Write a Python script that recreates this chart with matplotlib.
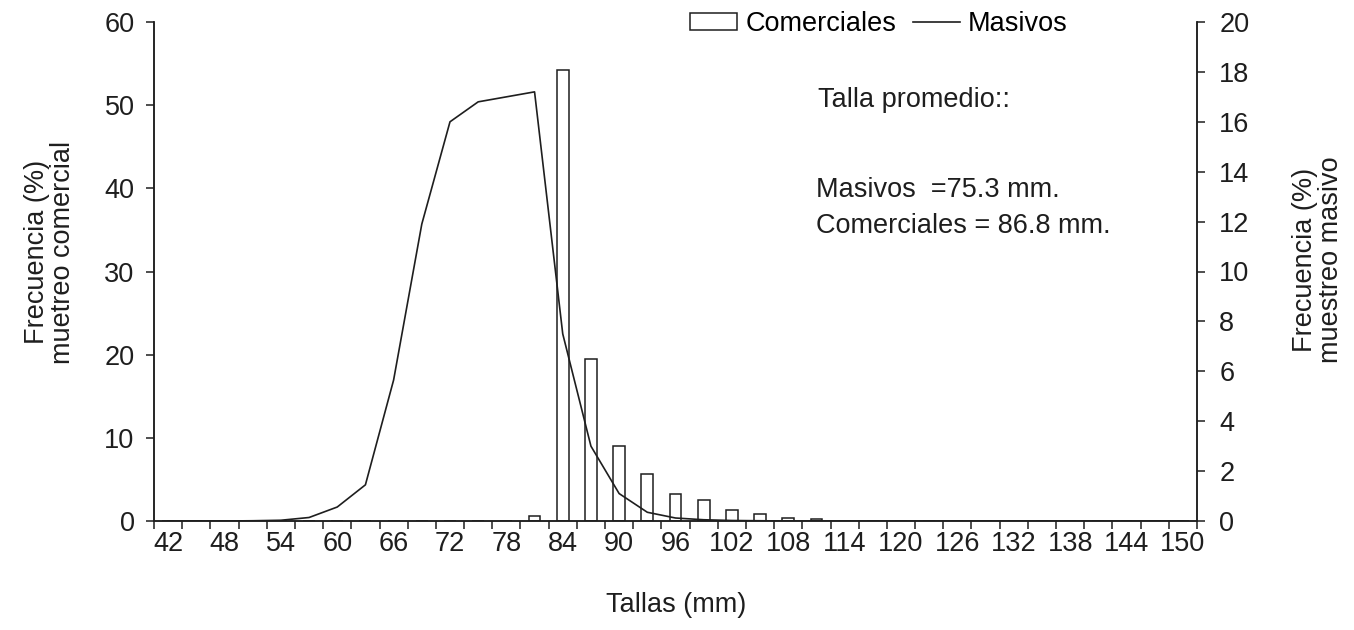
import matplotlib.pyplot as plt
from matplotlib.lines import Line2D
from matplotlib.patches import Rectangle

plt.rcParams['font.family'] = ['Liberation Sans', 'DejaVu Sans']

# Size classes (mm), one every 3 mm
tallas = [42, 45, 48, 51, 54, 57, 60, 63, 66, 69, 72, 75, 78, 81, 84, 87, 90, 93, 96,
          99, 102, 105, 108, 111, 114, 117, 120, 123, 126, 129, 132, 135, 138, 141,
          144, 147, 150]

# Commercial sampling frequency (%), left axis
comerciales = [0, 0, 0, 0, 0, 0, 0, 0, 0, 0, 0, 0, 0, 0.6, 54.2, 19.5, 9.0, 5.6, 3.3,
               2.5, 1.3, 0.8, 0.4, 0.2, 0, 0, 0, 0, 0, 0, 0, 0, 0, 0,
               0, 0, 0]

# Mass sampling frequency (%), right axis
masivos = [0, 0, 0, 0.01, 0.03, 0.14, 0.56, 1.45, 5.65, 11.9, 16.0, 16.8, 17.0, 17.2,
           7.5, 3.0, 1.1, 0.35, 0.12, 0.05, 0.02, 0.01, 0, 0, 0, 0, 0, 0, 0, 0, 0, 0,
           0, 0, 0, 0, 0]

etiquetas_x = [str(t) if i % 2 == 0 else '' for i, t in enumerate(tallas)]

W, H = 1354, 630
fig = plt.figure(figsize=(W / 100, H / 100), dpi=100)
ax = fig.add_axes([154 / W, 1 - 521 / H, (1197 - 154) / W, (521 - 22) / H])
ax2 = ax.twinx()

ink = '#1e1e1e'
fs = 19.5
x = list(range(len(tallas)))

ax.bar(x, comerciales, width=0.42, color='white', edgecolor=ink, linewidth=1.1,
       zorder=2)
ax2.plot(x, masivos, color=ink, linewidth=1.2, zorder=3)

ax.set_xlim(-0.5, len(tallas) - 0.5)
ax.set_ylim(0, 60)
ax2.set_ylim(0, 20)
ax.set_yticks(range(0, 61, 10))
ax2.set_yticks(range(0, 21, 2))

# category labels at the centres, tick marks on the boundaries
ax.set_xticks(x)
ax.set_xticklabels(etiquetas_x, fontsize=fs)
ax.set_xticks([i - 0.5 for i in range(len(tallas) + 1)], minor=True)
ax.tick_params(axis='x', which='major', length=0, pad=7, colors=ink)
ax.tick_params(axis='x', which='minor', length=5.5, width=1.1, direction='out',
               color=ink)
ax.tick_params(axis='y', length=6, width=1.1, pad=8, labelsize=fs, colors=ink)
ax2.tick_params(axis='y', length=6, width=1.1, pad=10, labelsize=fs, colors=ink)

for a in (ax, ax2):
    a.spines['top'].set_visible(False)
    for s in ('left', 'right', 'bottom'):
        a.spines[s].set_color(ink)
        a.spines[s].set_linewidth(1.1)

fig.text(676 / W, 1 - 605 / H, 'Tallas (mm)', fontsize=fs, color=ink,
         ha='center', va='center')
fig.text(50 / W, 1 - 252 / H, 'Frecuencia (%)\nmuetreo comercial', fontsize=fs,
         color=ink, rotation=90, ha='center', va='center', multialignment='center',
         linespacing=1.0)
fig.text(1318 / W, 1 - 260 / H, 'Frecuencia (%)\nmuestreo masivo', fontsize=fs,
         color=ink, rotation=90, ha='center', va='center', multialignment='center',
         linespacing=1.0)

handles = [Rectangle((0, 0), 1, 1, facecolor='white', edgecolor=ink, linewidth=1.1),
           Line2D([0], [0], color=ink, linewidth=1.2)]
fig.legend(handles, ['Comerciales', 'Masivos'], loc='center left',
           bbox_to_anchor=(690 / W, 1 - 24 / H), ncol=2, frameon=False,
           fontsize=fs, handlelength=1.75, handleheight=0.55, handletextpad=0.3,
           columnspacing=0.6, borderaxespad=0, borderpad=0)

fig.text(818 / W, 1 - 100 / H, 'Talla promedio::', fontsize=fs, color=ink,
         ha='left', va='center')
fig.text(816 / W, 1 - 190 / H, 'Masivos  =75.3 mm.', fontsize=fs, color=ink,
         ha='left', va='center')
fig.text(816 / W, 1 - 226 / H, 'Comerciales = 86.8 mm.', fontsize=fs, color=ink,
         ha='left', va='center')

fig.savefig('out.png', dpi=100, facecolor='white')
